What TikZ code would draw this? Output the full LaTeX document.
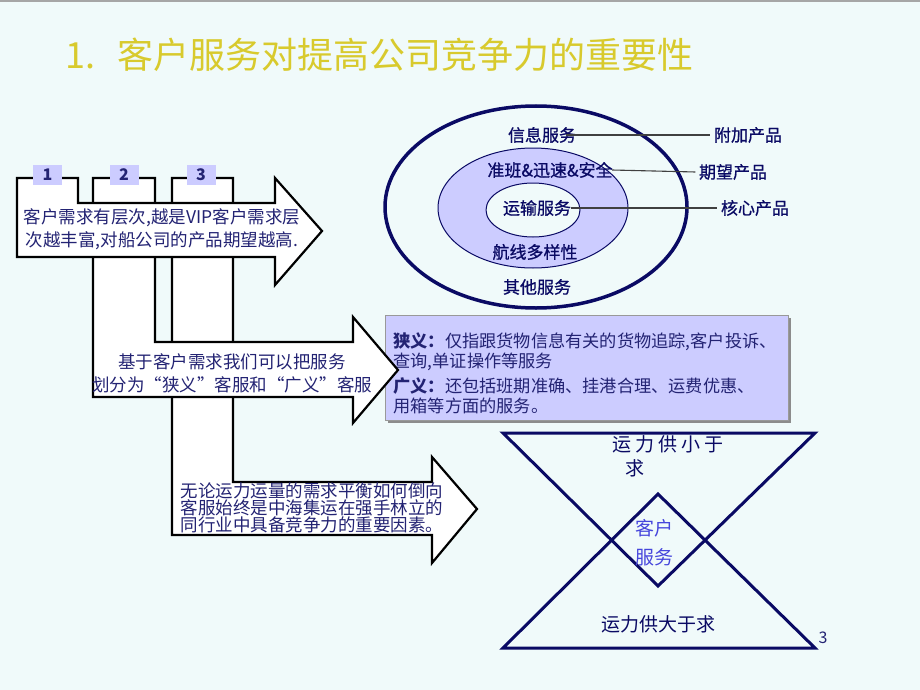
\documentclass[tikz,border=0pt]{standalone}
\usepackage{fontspec}
\setmainfont{Noto Sans CJK SC}
\usepackage{tikz}
\usetikzlibrary{shadows}

\definecolor{navytext}{RGB}{35,35,115}
\definecolor{deepnavy}{RGB}{10,10,100}
\definecolor{lavender}{RGB}{204,204,255}
\definecolor{titleyellow}{RGB}{216,202,45}
\definecolor{paper}{RGB}{240,250,250}
\definecolor{brightblue}{RGB}{70,70,220}

\begin{document}
\begin{tikzpicture}[
    x=1pt, y=-1pt,
    bentarrow/.style={draw=black, fill=white, line width=2.2pt, line join=miter},
    tablabel/.style={fill=lavender, minimum width=29pt, minimum height=20pt, inner sep=0pt, text=navytext, font=\fontsize{16}{16}\selectfont\bfseries},
    arrowtext/.style={align=center, text=navytext, font=\fontsize{17.5}{23}\selectfont},
    ringlabel/.style={text=deepnavy, font=\fontsize{17}{17}\selectfont\addfontfeature{FakeBold=0.8}},
    leader/.style={draw=black!75, line width=1.1pt},
    infobox/.style={draw=black!40, fill=lavender, drop shadow={shadow xshift=3pt, shadow yshift=-3pt, fill=black!45, opacity=1}, minimum width=403pt, minimum height=105pt, text width=386pt, align=left, text=navytext, font=\fontsize{17.2}{20}\selectfont},
    hourglass/.style={draw=deepnavy, line width=3pt, line join=miter},
    hourlabel/.style={text=deepnavy, font=\fontsize{19}{24}\selectfont}
]
    % Background
    \fill[paper] (0,0) rectangle (920,690);
    \useasboundingbox (0,0) rectangle (920,690);
    \draw[black!35, line width=2pt] (0,1) -- (920,1);

    % Title
    \node[anchor=west, inner sep=0pt, text=titleyellow, font=\fontsize{36}{36}\selectfont] (title) at (65,55) {1.\hspace{22pt}客户服务对提高公司竞争力的重要性};

    % Scope box
    \node[infobox] (scope) at (586.5,367.5) {\rule{0pt}{27pt}\textbf{狭义：}仅指跟货物信息有关的货物追踪,客户投诉、\\查询,单证操作等服务\\[5pt]\textbf{广义：}还包括班期准确、挂港合理、运费优惠、\\用箱等方面的服务。};

    % Bent arrows
    \draw[bentarrow] (172,178) -- (233,178) -- (233,482) -- (432,482) -- (432,457) -- (477,509) -- (432,563) -- (432,535) -- (172,535) -- cycle;
    \draw[bentarrow] (93,178) -- (155,178) -- (155,342) -- (353,342) -- (353,317) -- (398,370) -- (353,423) -- (353,397) -- (93,397) -- cycle;
    \draw[bentarrow] (17,178) -- (78,178) -- (78,203) -- (275,203) -- (275,178) -- (322,231) -- (275,285) -- (275,257) -- (17,257) -- cycle;

    % Nodes
    \node[tablabel] (tabone) at (47.5,174.5) {1};
    \node[tablabel] (tabtwo) at (124,174.5) {2};
    \node[tablabel] (tabthree) at (201,174.5) {3};
    \node[arrowtext] (needs) at (162,229.5) {客户需求有层次,越是VIP客户需求层\\次越丰富,对船公司的产品期望越高.};
    \node[arrowtext] (split) at (232,373) {基于客户需求我们可以把服务\\划分为“狭义”客服和“广义”客服};
    \node[arrowtext, font=\fontsize{17.5}{17}\selectfont] (compete) at (312,507.5) {无论运力运量的需求平衡如何倒向\\客服始终是中海集运在强手林立的\\同行业中具备竞争力的重要因素。};

    % Product rings
    \draw[deepnavy, line width=3.5pt] (536,207) ellipse [x radius=151, y radius=101];
    \draw[deepnavy, fill=lavender, line width=1pt] (533,208) ellipse [x radius=95, y radius=60];
    \draw[deepnavy, fill=paper, line width=1pt] (533,210) ellipse [x radius=47, y radius=27];

    \node[ringlabel] (info) at (542,135) {信息服务};
    \node[ringlabel] (punctual) at (550,170) {准班\&迅速\&安全};
    \node[ringlabel] (transport) at (537,208) {运输服务};
    \node[ringlabel] (routes) at (535,252) {航线多样性};
    \node[ringlabel] (others) at (537,287) {其他服务};
    \node[ringlabel] (addon) at (748,135) {附加产品};
    \node[ringlabel] (expected) at (733,172) {期望产品};
    \node[ringlabel] (core) at (755,208) {核心产品};

    % Connections
    \draw[leader] ([xshift=-14pt]info.east) -- (addon.west);
    \draw[leader] ([xshift=-4pt]punctual.east) -- (expected.west);
    \draw[leader] ([xshift=-4pt]transport.east) -- (core.west);

    % Supply and demand
    \draw[hourglass] (503,433) -- (815,433) -- (658,586) -- cycle;
    \draw[hourglass] (503,648) -- (815,648) -- (658,494) -- cycle;
    \node[hourlabel, align=left, anchor=west] (shortage) at (609,456) {运\hspace{4pt}力\hspace{4pt}供\hspace{4pt}小\hspace{4pt}于\\\hspace{13pt}求};
    \node[hourlabel, text=brightblue, align=center, font=\fontsize{19}{29}\selectfont] (service) at (654,542.5) {客户\\服务};
    \node[hourlabel] (surplus) at (658,624) {运力供大于求};
    \node[text=navytext, font=\fontsize{16}{16}\selectfont] (page) at (823,638) {3};
\end{tikzpicture}
\end{document}
